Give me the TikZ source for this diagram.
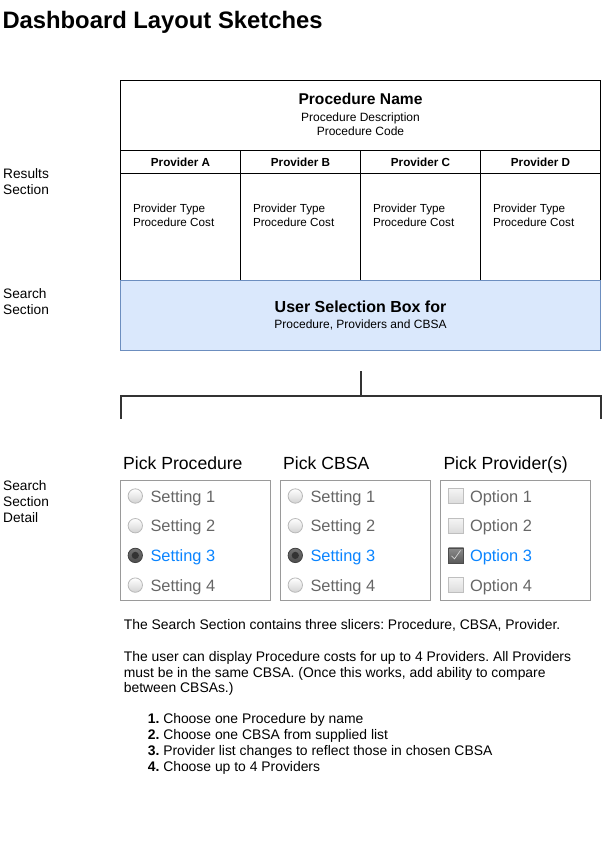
\documentclass[tikz,border=0pt]{standalone}
\usepackage{fontspec}
\setmainfont{Liberation Sans}
\frenchspacing
\definecolor{selfill}{HTML}{DAE8FC}
\definecolor{selline}{HTML}{6C8EBF}
\definecolor{pickblue}{HTML}{0A84FF}
\definecolor{itemgray}{HTML}{666666}
\definecolor{boxgray}{HTML}{9A9A9A}
\newcommand{\pxfont}[2]{\fontsize{#1}{#2}\selectfont}
\begin{document}
\begin{tikzpicture}[x=1pt, y=-1pt, line width=1pt,
    lbl/.style={anchor=base west, inner sep=0pt, font=\pxfont{13.7}{16}},
    hdr/.style={anchor=base, inner sep=0pt, font=\bfseries\pxfont{11.7}{14}},
    cell/.style={anchor=base west, inner sep=0pt, font=\pxfont{11.7}{14}},
    pickttl/.style={anchor=base west, inner sep=0pt, font=\pxfont{17.6}{20}},
    item/.style={anchor=base west, inner sep=0pt, font=\pxfont{16.4}{20}, text=itemgray},
    picked/.style={item, text=pickblue},
    note/.style={anchor=base west, inner sep=0pt, font=\pxfont{13.9}{16}},
    radio/.style={draw=gray!55, top color=white, bottom color=gray!35, line width=0.8pt},
    radioon/.style={draw=black!75, top color=black!55, bottom color=black!70, line width=0.8pt},
    tick/.style={draw=gray!50, top color=gray!8, bottom color=gray!28, line width=0.8pt},
    tickon/.style={draw=black!70, top color=black!45, bottom color=black!65, line width=0.8pt},
    bracket/.style={draw=black!80, line width=2pt}]

  \useasboundingbox (0,0) rectangle (602,841);

  \node[anchor=base west, inner sep=0pt, font=\bfseries\pxfont{23.8}{28}] (title) at (2,28) {Dashboard Layout Sketches};

  % side labels
  \node[lbl] (res1) at (2.7,178) {Results};
  \node[lbl] (res2) at (2.7,194) {Section};
  \node[lbl] (srch1) at (2.7,298) {Search};
  \node[lbl] (srch2) at (2.7,314) {Section};
  \node[lbl] (det1) at (2.7,490) {Search};
  \node[lbl] (det2) at (2.7,506) {Section};
  \node[lbl] (det3) at (2.7,522) {Detail};

  % results table
  \draw (120.5,80.5) rectangle (600.5,280.5);
  \draw (120.5,150.5) -- (600.5,150.5);
  \draw (120.5,173.5) -- (600.5,173.5);
  \foreach \x in {240.5,360.5,480.5}
    \draw (\x,150.5) -- (\x,280.5);

  \node[anchor=base, inner sep=0pt, font=\bfseries\pxfont{15.6}{18}] (pname) at (360.5,104.8) {Procedure Name};
  \node[anchor=base, inner sep=0pt, font=\pxfont{12}{14}] (pdesc) at (360.5,121) {Procedure Description};
  \node[anchor=base, inner sep=0pt, font=\pxfont{12}{14}] (pcode) at (360.5,135) {Procedure Code};

  \foreach \p [count=\i from 0] in {A,B,C,D} {
    \node[hdr] (prov\p) at (180.5+120*\i,166) {Provider \p};
    \node[cell] (type\p) at (132.5+120*\i,212) {Provider Type};
    \node[cell] (cost\p) at (132.5+120*\i,226) {Procedure Cost};
  }

  % search box
  \draw[fill=selfill, draw=selline] (120.5,280.5) rectangle (600.5,350.5);
  \node[anchor=base, inner sep=0pt, font=\bfseries\pxfont{16}{18}] (usel) at (360.5,312.7) {User Selection Box for};
  \node[anchor=base, inner sep=0pt, font=\pxfont{12}{14}] (usub) at (360.5,328) {Procedure, Providers and CBSA};

  % bracket
  \coordinate (btop) at (360.5,371);
  \coordinate (bmid) at (360.5,395.5);
  \coordinate (bleft) at (120.7,419);
  \coordinate (bright) at (600.5,419);
  \draw[bracket] (btop) -- (bmid);
  \draw[bracket] (bleft) -- (bleft |- bmid) -- (bright |- bmid) -- (bright);

  % radio slicers
  \foreach \c/\ttl in {0/Pick Procedure, 1/Pick CBSA} {
    \begin{scope}[xshift=160*\c]
      \node[pickttl] (ttl\c) at (122.7,469) {\ttl};
      \draw[boxgray] (120.5,480.5) rectangle (270.5,600.5);
      \foreach \k in {1,...,4} {
        \ifnum\k=3
          \draw[radioon] (135.3,{496+29.7*(\k-1)}) circle (7.2);
          \fill[black!80] (135.3,{496+29.7*(\k-1)}) circle (3.6);
          \node[picked] (set\c\k) at (150,{502+29.7*(\k-1)}) {Setting \k};
        \else
          \draw[radio] (135.3,{496+29.7*(\k-1)}) circle (7.2);
          \node[item] (set\c\k) at (150,{502+29.7*(\k-1)}) {Setting \k};
        \fi
      }
    \end{scope}
  }

  % provider slicer
  \node[pickttl] (ttl2) at (443,469) {Pick Provider(s)};
  \draw[boxgray] (440.5,480.5) rectangle (590.5,600.5);
  \foreach \k in {1,...,4} {
    \ifnum\k=3
      \draw[tickon] (448.5,{488.5+29.7*(\k-1)}) rectangle (463.5,{503.5+29.7*(\k-1)});
      \draw[gray!35, line width=0.7pt] (451.5,{496.5+29.7*(\k-1)}) -- (454.5,{499.5+29.7*(\k-1)}) -- (460.5,{491+29.7*(\k-1)});
      \node[picked] (opt\k) at (469.5,{502+29.7*(\k-1)}) {Option \k};
    \else
      \draw[tick] (448.5,{488.5+29.7*(\k-1)}) rectangle (463.5,{503.5+29.7*(\k-1)});
      \node[item] (opt\k) at (469.5,{502+29.7*(\k-1)}) {Option \k};
    \fi
  }

  % notes
  \node[note] (note1) at (123.3,629) {The Search Section contains three slicers: Procedure, CBSA, Provider.};
  \node[note] (note2) at (123.3,661.7) {The user can display Procedure costs for up to 4 Providers. All Providers};
  \node[note] (note3) at (123.3,677.2) {must be in the same CBSA. (Once this works, add ability to compare};
  \node[note] (note4) at (123.3,692.7) {between CBSAs.)};
  \node[note] (step1) at (147.3,723) {\textbf{1.} Choose one Procedure by name};
  \node[note] (step2) at (147.3,739) {\textbf{2.} Choose one CBSA from supplied list};
  \node[note] (step3) at (147.3,755) {\textbf{3.} Provider list changes to reflect those in chosen CBSA};
  \node[note] (step4) at (147.3,771) {\textbf{4.} Choose up to 4 Providers};
\end{tikzpicture}
\end{document}
